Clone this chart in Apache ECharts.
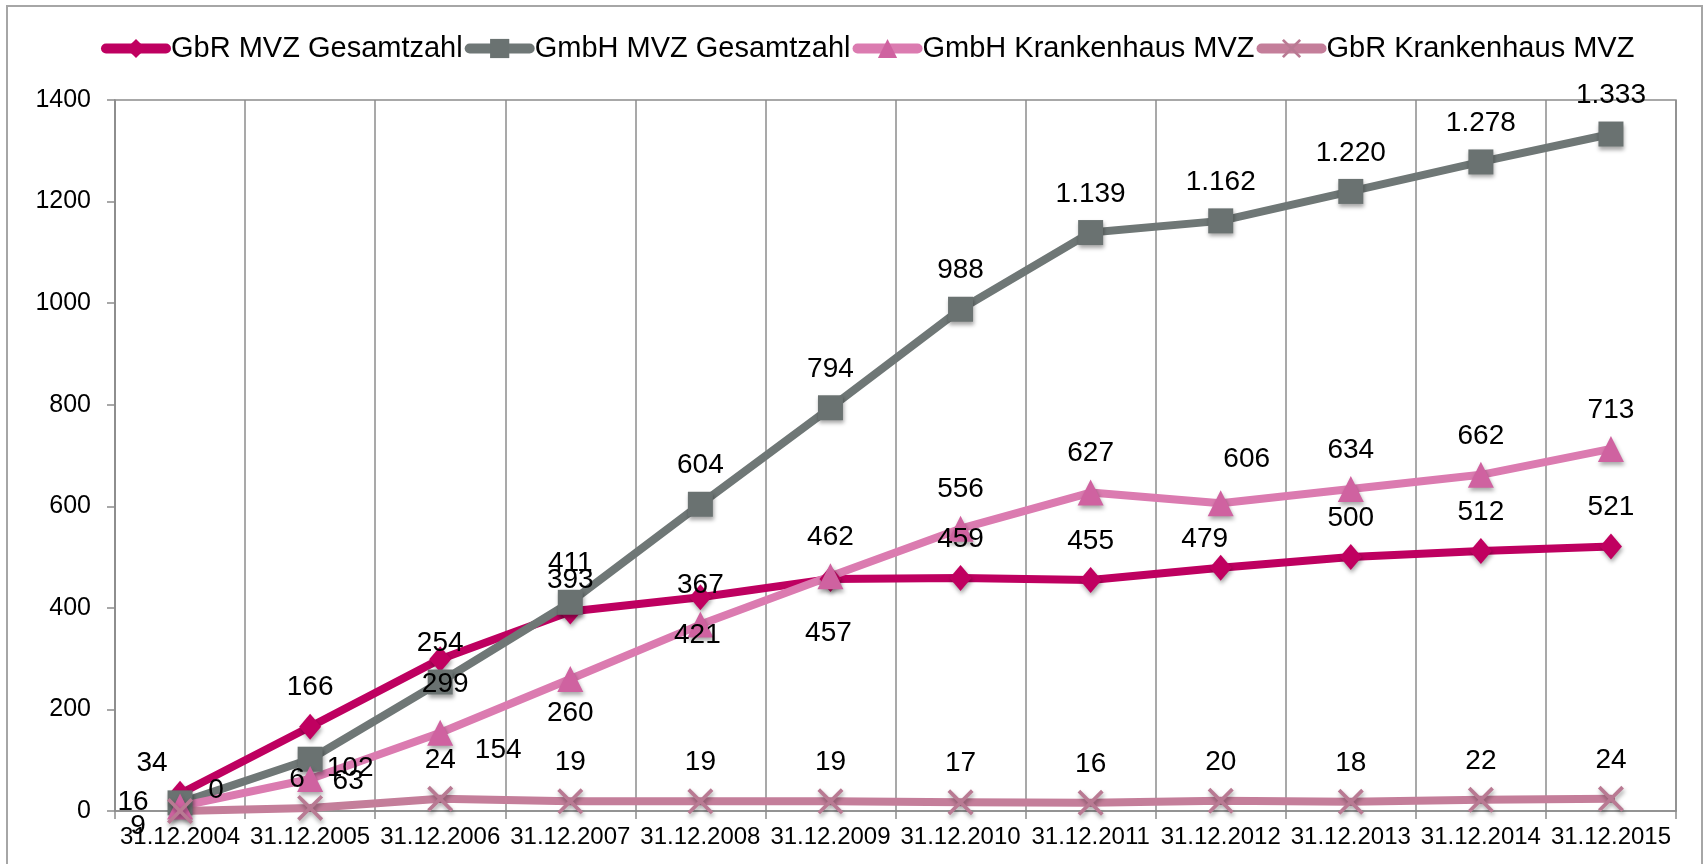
<!DOCTYPE html>
<html lang="de" style="height: 100%">
  <head>
    <meta charset="utf-8" />
  </head>
  <body style="height: 100%; margin: 0; background: #fff">
    <div id="container" style="width: 1705px; height: 864px"></div>

    <script src="https://cdn.jsdelivr.net/npm/echarts@6/dist/echarts.min.js"></script>

    <script type="text/javascript">
      var categories = ["31.12.2004","31.12.2005","31.12.2006","31.12.2007","31.12.2008","31.12.2009",
        "31.12.2010","31.12.2011","31.12.2012","31.12.2013","31.12.2014","31.12.2015"];
      var gbrMvz = [34, 166, 299, 393, 421, 457, 459, 455, 479, 500, 512, 521];
      var gmbhMvz = [16, 102, 254, 411, 604, 794, 988, 1139, 1162, 1220, 1278, 1333];
      var gmbhKh = [9, 63, 154, 260, 367, 462, 556, 627, 606, 634, 662, 713];
      var gbrKh = [0, 6, 24, 19, 19, 19, 17, 16, 20, 18, 22, 24];
      var yTicks = { min: 0, max: 1400, step: 200 };

      var font = "'Liberation Sans', Arial, sans-serif";

      // label nudges for crowded points (offset from point centre)
      var labelNudge = {
        gbrMvz: { 0: [-28, -30], 2: [5, 25], 3: [0, -31], 4: [-3, 38], 5: [-2, 54], 8: [-16, -28] },
        gmbhMvz: { 0: [-47, -1], 1: [40, 9] },
        gmbhKh: { 0: [-42, 20], 1: [38, 2], 2: [58, 17], 3: [0, 34], 8: [26, -44] },
        gbrKh: { 0: [36, -21], 1: [-13, -29] }
      };

      function fmt(v) {
        return String(v).replace(/\B(?=(\d{3})+(?!\d))/g, ".");
      }

      function points(values, key) {
        return values.map(function (v, i) {
          var n = labelNudge[key][i];
          if (!n) return v;
          return { value: v, label: { position: "inside", offset: n } };
        });
      }

      var shadow = {
        shadowBlur: 4,
        shadowColor: "rgba(0,0,0,0.35)",
        shadowOffsetX: 1,
        shadowOffsetY: 3
      };

      function lineSeries(name, values, key, color, markColor, symbol, size) {
        return {
          name: name,
          type: "line",
          data: points(values, key),
          symbol: symbol,
          symbolSize: size,
          showAllSymbol: true,
          lineStyle: { color: color, width: 8, cap: "round", join: "round" },
          itemStyle: Object.assign({ color: markColor }, shadow),
          label: {
            show: true,
            position: "top",
            distance: 12,
            fontFamily: font,
            fontSize: 28,
            color: "#000",
            formatter: function (p) { return fmt(p.value); }
          },
          emphasis: { disabled: true },
          animation: false
        };
      }

      var xMark = "path://M1,0 L5,4 L9,0 L10,1 L6,5 L10,9 L9,10 L5,6 L1,10 L0,9 L4,5 L0,1 Z";

      var myChart = echarts.init(document.getElementById("container"), null, { renderer: "canvas" });

      var option = {
        backgroundColor: "#fff",
        animation: false,
        graphic: [
          {
            type: "rect",
            shape: { x: 7, y: 6, width: 1695, height: 900 },
            style: { fill: "none", stroke: "#a6a6a6", lineWidth: 2 },
            silent: true
          }
        ],
        legend: {
          left: 96,
          top: 29,
          itemWidth: 60,
          itemHeight: 24,
          itemGap: 2,
          lineStyle: { width: 10, cap: "round" },
          itemStyle: { shadowBlur: 0, shadowOffsetX: 0, shadowOffsetY: 0 },
          textStyle: { fontFamily: font, fontSize: 29, color: "#000" },
          data: ["GbR MVZ Gesamtzahl", "GmbH MVZ Gesamtzahl", "GmbH Krankenhaus MVZ", "GbR Krankenhaus MVZ"]
        },
        grid: {
          left: 115,
          right: 29,
          top: 100,
          bottom: 53,
          show: true,
          borderColor: "#8c8c8c",
          borderWidth: 1.5
        },
        xAxis: {
          type: "category",
          data: categories,
          boundaryGap: true,
          axisLine: { lineStyle: { color: "#8c8c8c", width: 1.5 } },
          axisTick: { show: true, length: 8, lineStyle: { color: "#8c8c8c", width: 1.5 } },
          splitLine: { show: true, lineStyle: { color: "#8c8c8c", width: 1.5 } },
          axisLabel: { interval: 0, margin: 14, fontFamily: font, fontSize: 24, color: "#000" }
        },
        yAxis: {
          type: "value",
          min: yTicks.min,
          max: yTicks.max,
          interval: yTicks.step,
          axisLine: { show: true, lineStyle: { color: "#8c8c8c", width: 1.5 } },
          axisTick: { show: true, length: 8, lineStyle: { color: "#8c8c8c", width: 1.5 } },
          splitLine: { show: false },
          axisLabel: {
            margin: 24,
            fontFamily: font,
            fontSize: 25,
            color: "#000",
            formatter: function (v) { return String(v); }
          }
        },
        series: [
          lineSeries("GbR MVZ Gesamtzahl", gbrMvz, "gbrMvz", "#BE0060", "#C00060", "diamond", [22, 26]),
          lineSeries("GmbH MVZ Gesamtzahl", gmbhMvz, "gmbhMvz", "#6F7776", "#6A7271", "rect", 25),
          lineSeries("GmbH Krankenhaus MVZ", gmbhKh, "gmbhKh", "#DB7BB0", "#CF62A0", "triangle", 26),
          lineSeries("GbR Krankenhaus MVZ", gbrKh, "gbrKh", "#C47E9A", "#B97A93", xMark, 26)
        ]
      };

      myChart.setOption(option);
      window.addEventListener("resize", myChart.resize);
    </script>
  </body>
</html>
